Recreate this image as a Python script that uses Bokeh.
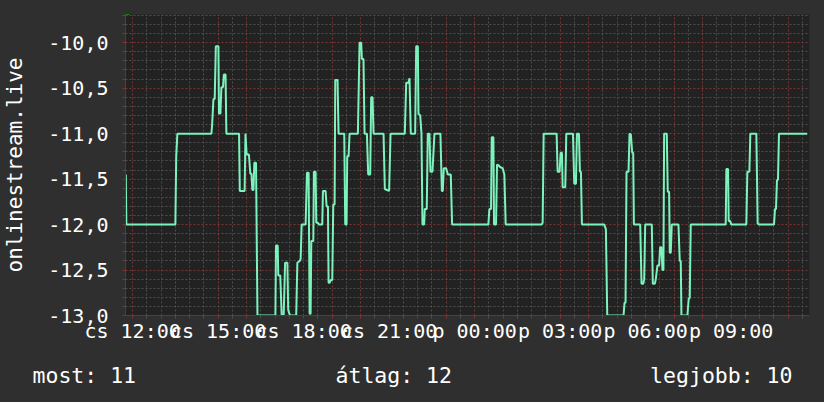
from bokeh.plotting import figure
from bokeh.layouts import column
from bokeh.models import FixedTicker, CustomJSTickFormatter, Label, Range1d
from bokeh.core.properties import value
from bokeh.embed import file_html
from bokeh.resources import INLINE

# ---- data (hours after Thursday 12:00, rank values) ----
hours = [
    -0.24, -0.22, 1.50, 1.53, 1.57, 2.765, 2.79, 2.836, 2.88, 2.92, 3.01, 3.03, 3.08, 3.115, 3.17, 3.20, 3.26,
    3.29, 3.735, 3.76, 3.93, 3.96, 4.0, 4.08, 4.13, 4.17, 4.2, 4.24, 4.27, 4.33, 4.38, 5.01, 5.03, 5.09,
    5.11, 5.18, 5.23, 5.30, 5.35, 5.43, 5.46, 5.52, 5.74, 5.78, 5.86, 5.895, 5.93, 6.07, 6.117, 6.175,
    6.21, 6.245, 6.27, 6.34, 6.36, 6.42, 6.444, 6.50, 6.537, 6.654, 6.678, 6.77, 6.806, 6.853, 6.876,
    6.911, 6.958, 7.005, 7.04, 7.087, 7.11, 7.19, 7.226, 7.38, 7.425, 7.46, 7.507, 7.53, 7.577, 7.612,
    7.904, 7.963, 8.02, 8.044, 8.10, 8.138, 8.22, 8.266, 8.336, 8.37, 8.418, 8.453, 8.804, 8.85, 8.92,
    9.0, 9.05, 9.55, 9.6, 9.68, 9.715, 9.76, 9.913, 9.95, 10.007, 10.03, 10.09, 10.135, 10.17, 10.229,
    10.25, 10.32, 10.357, 10.416, 10.45, 10.52, 10.544, 10.59, 10.8, 10.85, 10.883, 10.918, 11.0, 11.06,
    11.163, 11.21, 12.482, 12.518, 12.576, 12.6, 12.658, 12.681, 12.751, 12.786, 12.845, 12.903, 12.985,
    13.043, 13.09, 14.352, 14.387, 14.422, 14.877, 14.912, 14.982, 15.017, 15.064, 15.088, 15.181, 15.216,
    15.45, 15.496, 15.555, 15.59, 15.66, 15.695, 15.73, 15.765, 16.548, 16.606, 16.653, 17.225, 17.26,
    17.295, 17.33, 17.4, 17.436, 17.483, 17.529, 17.564, 17.588, 17.81, 17.856, 17.915, 17.95, 17.985,
    18.217, 18.252, 18.322, 18.357, 18.415, 18.474, 18.509, 18.555, 18.59, 18.625, 18.649, 18.742,
    18.777, 18.824, 18.847, 18.882, 18.917, 19.151, 19.198, 19.233, 19.256, 19.466, 19.513, 19.548,
    19.583, 20.81, 20.833, 20.892, 20.915, 20.962, 21.009, 21.534, 21.569, 21.64, 21.674, 21.885, 21.931,
    21.99, 22.504, 22.539, 22.574, 22.609, 22.644, 22.679, 23.67,
]
values = [
    -11.45, -12.0, -12.0, -11.25, -11.0, -11.0, -10.9, -10.62, -10.62, -10.04, -10.04, -10.78, -10.78, -10.49, -10.49, -10.35, -10.35,
    -11.0, -11.0, -11.63, -11.63, -11.0, -11.23, -11.23, -11.44, -11.44, -11.62, -11.62, -11.32, -11.32, -13.0, -13.0, -12.23, -12.23,
    -12.56, -12.56, -13.0, -13.0, -12.42, -12.42, -12.94, -13.0, -13.0, -12.42, -12.40, -12.38, -12.0, -12.0, -11.43, -11.43,
    -12.98, -12.98, -12.18, -12.18, -11.42, -11.42, -11.98, -11.98, -12.0, -12.0, -11.63, -11.63, -11.80, -11.80, -12.64,
    -12.64, -12.61, -12.61, -11.78, -11.78, -10.41, -10.41, -11.0, -11.0, -11.0, -12.0, -12.0, -11.25, -11.25, -11.0,
    -11.0, -10.0, -10.0, -10.18, -10.18, -11.0, -11.0, -11.45, -11.45, -10.6, -10.6, -11.0, -11.0, -11.61, -11.62,
    -11.63, -11.0, -11.0, -10.44, -10.44, -10.39, -11.0, -11.0, -10.04, -10.04, -10.78, -10.8, -11.0, -12.0, -12.0,
    -11.83, -11.83, -11.0, -11.0, -11.42, -11.42, -11.28, -11.0, -11.0, -11.63, -11.63, -11.38, -11.38, -11.45,
    -11.45, -12.0, -12.0, -11.83, -11.83, -11.04, -11.04, -12.0, -12.0, -11.34, -11.35, -11.37, -11.38,
    -11.45, -12.0, -12.0, -11.98, -11.0, -11.0, -11.42, -11.42, -11.21, -11.21, -11.59, -11.59, -11.0,
    -11.0, -11.55, -11.55, -11.0, -11.0, -11.42, -11.42, -12.0, -12.0, -12.05, -13.0, -13.0, -12.86,
    -12.86, -11.42, -11.42, -11.0, -11.01, -11.21, -11.21, -12.0, -12.0, -12.65, -12.65, -12.6, -12.0,
    -12.0, -12.65, -12.65, -12.6, -12.45, -12.45, -12.25, -12.25, -12.5, -12.5, -11.0, -11.0,
    -11.64, -11.64, -12.31, -12.31, -12.0, -12.0, -12.4, -12.4, -13.0, -13.0, -12.81, -12.81,
    -12.0, -12.0, -11.39, -11.39, -11.96, -11.96, -12.0, -12.0, -11.42, -11.42, -11.0, -11.0, -11.99,
    -12.0, -12.0, -11.83, -11.83, -11.51, -11.51, -11.0, -11.0,
]

x_tick_hours = [0, 3, 6, 9, 12, 15, 18, 21]
x_tick_labels = ["cs 12:00", "cs 15:00", "cs 18:00", "cs 21:00",
                 "p 00:00", "p 03:00", "p 06:00", "p 09:00"]
y_ticks = [-13.0, -12.5, -12.0, -11.5, -11.0, -10.5, -10.0]
y_axis_title = "onlinestream.live"
legend_texts = ["most: 11", "átlag: 12", "legjobb: 10"]

FONT = "DejaVu Sans Mono"
BG = "#2f2f2f"
PLOT_BG = "#222222"
LINE = "#7cf3bd"
MAJOR = "#7a3535"
MINOR = "#4e4e4e"

p = figure(width=824, height=350, output_backend="svg", toolbar_location=None,
           x_range=Range1d(-0.25, 23.75), y_range=Range1d(-13.0, -9.69),
           min_border_left=124, min_border_right=15, min_border_top=14, min_border_bottom=35)
p.background_fill_color = PLOT_BG
p.border_fill_color = BG
p.outline_line_color = None

hour_ticks = list(range(0, 24))
half_ticks = [h + 0.5 for h in range(0, 24)]
xt = FixedTicker(ticks=hour_ticks, minor_ticks=half_ticks)
p.xaxis.ticker = xt
p.xgrid.ticker = xt
p.xaxis.formatter = CustomJSTickFormatter(
    args=dict(hticks=x_tick_hours, hlabels=x_tick_labels),
    code="const i = hticks.indexOf(tick); return i >= 0 ? hlabels[i] : '';")

minor_y = [round(-13.0 + 0.1 * k, 1) for k in range(0, 34)]
minor_y = [v for v in minor_y if v not in y_ticks]
yt = FixedTicker(ticks=y_ticks, minor_ticks=minor_y)
p.yaxis.ticker = yt
p.ygrid.ticker = yt
p.yaxis.formatter = CustomJSTickFormatter(code="return tick.toFixed(1).replace('.', ',');")

for g in (p.xgrid, p.ygrid):
    g.grid_line_color = MAJOR
    g.grid_line_dash = "2 2"
    g.grid_line_width = 1
    g.minor_grid_line_color = MINOR
    g.minor_grid_line_dash = "2 2"
    g.minor_grid_line_width = 1

for ax in (p.xaxis, p.yaxis):
    ax.axis_line_color = "#444444"
    ax.major_tick_line_color = MAJOR
    ax.minor_tick_line_color = MINOR
    ax.major_tick_in = 0
    ax.minor_tick_in = 0
    ax.major_tick_out = 3
    ax.minor_tick_out = 3
    ax.major_label_text_color = "#ffffff"
    ax.major_label_text_font = FONT
    ax.major_label_text_font_size = "20px"
    ax.axis_label_text_color = "#ffffff"
    ax.axis_label_text_font = FONT
    ax.axis_label_text_font_style = "normal"
    ax.axis_label_text_font_size = "21px"

p.xaxis.major_label_standoff = 0
p.yaxis.major_label_standoff = 14
p.yaxis.axis_label = y_axis_title
p.yaxis.axis_label_standoff = 18

p.line(hours, values, line_color=LINE, line_width=2)

# axis arrows
p.add_layout(Label(x=1, y=304, x_units="screen", y_units="screen", text="▲",
                   text_font="DejaVu Sans", text_font_size="8px", text_color="#00d000",
                   text_baseline="middle", text_align="center"))
p.add_layout(Label(x=689, y=1, x_units="screen", y_units="screen", text="►",
                   text_font="DejaVu Sans", text_font_size="9px", text_color="#00d000",
                   text_baseline="middle", text_align="center"))

# legend strip below the chart
leg = figure(width=824, height=52, output_backend="svg", toolbar_location=None,
             x_range=Range1d(0, 824), y_range=Range1d(0, 52),
             min_border=0, min_border_left=0, min_border_right=0,
             min_border_top=0, min_border_bottom=0)
leg.axis.visible = False
leg.grid.visible = False
leg.outline_line_color = None
leg.background_fill_color = BG
leg.border_fill_color = BG
leg.text(x=[32, 335], y=[27, 27], text=legend_texts[:2], text_font=value(FONT),
         text_font_size="21.5px", text_color="#ffffff", text_baseline="middle", text_align="left")
leg.text(x=[792], y=[27], text=legend_texts[2:], text_font=value(FONT),
         text_font_size="21.5px", text_color="#ffffff", text_baseline="middle", text_align="right")

layout = column(column(p), column(leg), spacing=0)
layout.styles = {"background-color": BG}

open("out.html", "w").write(file_html(layout, INLINE))
